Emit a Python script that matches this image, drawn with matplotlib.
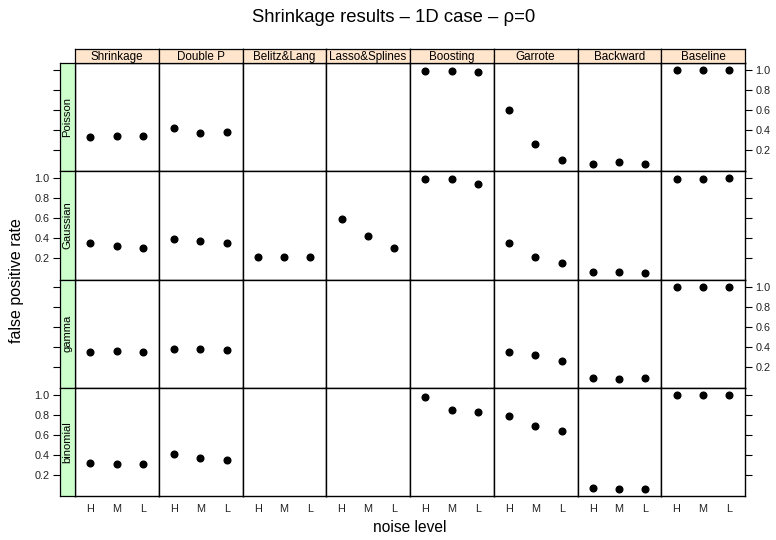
import numpy as np
import matplotlib
matplotlib.use("Agg")
import matplotlib.pyplot as plt

plt.rcParams['font.family'] = ['Liberation Sans', 'DejaVu Sans']

# panel layout: columns are methods, rows are response families
methods = ["Shrinkage", "Double P", "Belitz&Lang", "Lasso&Splines",
           "Boosting", "Garrote", "Backward", "Baseline"]
families = ["Poisson", "Gaussian", "gamma", "binomial"]
noise = ["H", "M", "L"]

# false positive rate per family (rows) and noise level (H, M, L); None = not fitted
shrinkage = [[0.334, 0.344, 0.340], [0.350, 0.320, 0.300],
             [0.346, 0.356, 0.350], [0.320, 0.310, 0.313]]
double_p = [[0.420, 0.374, 0.380], [0.396, 0.370, 0.353],
            [0.380, 0.377, 0.370], [0.407, 0.373, 0.353]]
belitz_lang = [None, [0.213, 0.213, 0.213], None, None]
lasso_splines = [None, [0.590, 0.420, 0.300], None, None]
boosting = [[0.994, 0.994, 0.980], [0.996, 0.990, 0.943],
            None, [0.983, 0.847, 0.830]]
garrote = [[0.607, 0.267, 0.104], [0.353, 0.210, 0.153],
           [0.350, 0.313, 0.256], [0.790, 0.690, 0.637]]
backward = [[0.067, 0.084, 0.067], [0.066, 0.066, 0.050],
            [0.083, 0.073, 0.086], [0.073, 0.060, 0.060]]
baseline = [[1.0, 1.0, 1.0], [0.996, 0.996, 1.0],
            [1.0, 1.0, 1.0], [1.0, 1.0, 1.0]]

results = [shrinkage, double_p, belitz_lang, lasso_splines,
           boosting, garrote, backward, baseline]

W, H = 776, 540
fig = plt.figure(figsize=(W / 100, H / 100), dpi=100)

def px(x, y, w, h):
    # pixel box (top-left origin) -> figure fraction
    return [x / W, 1 - (y + h) / H, w / W, h / H]

x0, y0 = 75.0, 63.0
pw, ph = 83.75, 108.25
strip_h, strip_w = 14.0, 15.0
ylim = (-0.01, 1.072)
yticks = [0.2, 0.4, 0.6, 0.8, 1.0]
ncol, nrow = len(methods), len(families)
tick_col = '#222222'

for r in range(nrow):
    for c in range(ncol):
        ax = fig.add_axes(px(x0 + c * pw, y0 + r * ph, pw, ph))
        vals = results[c][r]
        if vals is not None:
            ax.plot([1, 2, 3], vals, 'o', color='black', ms=4.8, mec='black')
        ax.set_xlim(0.42, 3.6)
        ax.set_ylim(*ylim)
        for s in ax.spines.values():
            s.set_linewidth(1.0)
        ax.set_xticks([1, 2, 3])
        if r == nrow - 1:
            ax.set_xticklabels(noise, fontsize=7.8, color=tick_col)
            ax.tick_params(axis='x', length=0, pad=6)
        else:
            ax.set_xticklabels([])
            ax.tick_params(axis='x', length=0)
        if c == ncol - 1:
            ax.yaxis.tick_right()
            ax.set_yticks(yticks)
            ax.tick_params(axis='y', direction='out', length=5, width=0.8, pad=2.5,
                           labelsize=7.8, labelcolor=tick_col)
            if r % 2 == 1:
                ax.set_yticklabels([])
            else:
                ax.set_yticklabels([f"{v:.1f}" for v in yticks])
        else:
            ax.set_yticks([])

        # column strip across the top row
        if r == 0:
            sa = fig.add_axes(px(x0 + c * pw, y0 - strip_h, pw, strip_h))
            sa.set_facecolor('#FFE5CC')
            sa.set_xticks([])
            sa.set_yticks([])
            for s in sa.spines.values():
                s.set_linewidth(0.9)
            sa.text(0.5, 0.45, methods[c], ha='center', va='center', fontsize=8.4,
                    transform=sa.transAxes)

    # row strip on the left, carrying the left axis ticks
    la = fig.add_axes(px(x0 - strip_w, y0 + r * ph, strip_w, ph))
    la.set_facecolor('#CCFFCC')
    la.set_ylim(*ylim)
    la.set_xticks([])
    la.set_yticks(yticks)
    la.tick_params(axis='y', direction='out', length=5, width=0.8, pad=2.5,
                   labelsize=7.8, labelcolor=tick_col)
    if r % 2 == 1:
        la.set_yticklabels([f"{v:.1f}" for v in yticks])
    else:
        la.set_yticklabels([])
    for s in la.spines.values():
        s.set_linewidth(0.9)
    la.text(0.5, 0.5, families[r], rotation=90, ha='center', va='center',
            fontsize=8.1, transform=la.transAxes)

fig.text(394 / W, 1 - 18 / H, "Shrinkage results \u2013 1D case \u2013 \u03c1=0",
         ha='center', va='center', fontsize=13.3)
fig.text(410 / W, 1 - 528 / H, "noise level", ha='center', va='center', fontsize=11.2)
fig.text(17 / W, 1 - 281 / H, "false positive rate", rotation=90,
         ha='center', va='center', fontsize=11.5)

fig.savefig("out.png", dpi=100)
